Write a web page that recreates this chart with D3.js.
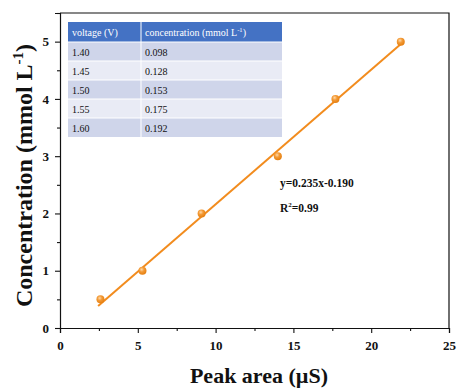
<!DOCTYPE html>
<html>
<head>
<meta charset="utf-8">
<script src="https://cdn.jsdelivr.net/npm/d3@7"></script>
<style>
  html, body { margin: 0; padding: 0; background: #fff; }
  svg { display: block; }
</style>
</head>
<body>
<svg id="chart" width="458" height="392"></svg>
<script>
// Calibration data: peak area (µS) vs concentration (mmol L-1)
const peakArea = [2.6, 5.3, 9.1, 14.0, 17.7, 21.9];
const concentration = [0.5, 1.0, 2.0, 3.0, 4.0, 5.0];
// Linear fit y = slope * x + intercept
const fitSlope = 0.235;
const fitIntercept = -0.190;
const rSquared = "0.99";
// Inset table
const tableVoltage = ["1.40", "1.45", "1.50", "1.55", "1.60"];
const tableConc = ["0.098", "0.128", "0.153", "0.175", "0.192"];
const xTicks = [0, 5, 10, 15, 20, 25];
const yTicks = [0, 1, 2, 3, 4, 5];

const svg = d3.select("#chart");
const margin = { left: 60, right: 9, top: 13, bottom: 64 };
const W = 458, H = 392;
const x = d3.scaleLinear().domain([0, 25]).range([margin.left, W - margin.right]);
const y = d3.scaleLinear().domain([0, 5.5]).range([H - margin.bottom, margin.top]);

const orange = "#f28c1e";
const serif = "'Liberation Serif', 'Times New Roman', serif";

// Marker gradient for a slightly glossy look
const defs = svg.append("defs");
const grad = defs.append("radialGradient").attr("id", "dotGrad")
  .attr("cx", "40%").attr("cy", "35%").attr("r", "65%");
grad.append("stop").attr("offset", "0%").attr("stop-color", "#ffd9a8");
grad.append("stop").attr("offset", "45%").attr("stop-color", "#f39a36");
grad.append("stop").attr("offset", "100%").attr("stop-color", "#e57f10");

// Frame (top and right)
svg.append("path")
  .attr("d", `M${x(0)},${y(5.5)}H${x(25)}V${y(0)}`)
  .attr("fill", "none").attr("stroke", "#111").attr("stroke-width", 1.2);

// Axes
const xAxis = svg.append("g").attr("transform", `translate(0,${y(0)})`)
  .call(d3.axisBottom(x).tickValues(xTicks).tickSize(5).tickPadding(8).tickFormat(d3.format("d")));
const xMinor = svg.append("g").attr("transform", `translate(0,${y(0)})`)
  .call(d3.axisBottom(x).tickValues(d3.range(2.5, 25, 5)).tickSize(3).tickFormat(""));
const yAxis = svg.append("g").attr("transform", `translate(${x(0)},0)`)
  .call(d3.axisLeft(y).tickValues(yTicks).tickSize(5).tickPadding(6).tickFormat(d3.format("d")));
const yMinor = svg.append("g").attr("transform", `translate(${x(0)},0)`)
  .call(d3.axisLeft(y).tickValues(d3.range(0.5, 5.6, 1)).tickSize(3).tickFormat(""));

[xAxis, xMinor, yAxis, yMinor].forEach(g => {
  g.select(".domain").attr("stroke", "#111").attr("stroke-width", 1.2);
  g.selectAll(".tick line").attr("stroke", "#111").attr("stroke-width", 1.1);
  g.selectAll("text").attr("font-family", serif).attr("font-weight", "bold")
    .attr("font-size", 13).attr("fill", "#111");
});
xMinor.select(".domain").remove();
yMinor.select(".domain").remove();

// Fit line over the data range
const x0 = 2.45, x1 = 22.0;
svg.append("line")
  .attr("x1", x(x0)).attr("y1", y(fitSlope * x0 + fitIntercept))
  .attr("x2", x(x1)).attr("y2", y(fitSlope * x1 + fitIntercept))
  .attr("stroke", orange).attr("stroke-width", 2);

// Points
svg.append("g").selectAll("circle")
  .data(peakArea.map((d, i) => [d, concentration[i]]))
  .join("circle")
  .attr("cx", d => x(d[0])).attr("cy", d => y(d[1]))
  .attr("r", 4).attr("fill", "url(#dotGrad)");

// Equation text
svg.append("text").attr("x", 280).attr("y", 187)
  .attr("font-family", serif).attr("font-weight", "bold").attr("font-size", 11.5).attr("fill", "#111")
  .text(`y=${fitSlope.toFixed(3)}x${fitIntercept < 0 ? "-" : "+"}${Math.abs(fitIntercept).toFixed(3)}`);
const r2 = svg.append("text").attr("x", 280).attr("y", 212)
  .attr("font-family", serif).attr("font-weight", "bold").attr("font-size", 11.5).attr("fill", "#111");
r2.append("tspan").text("R");
r2.append("tspan").attr("dy", -5).attr("font-size", 7).text("2");
r2.append("tspan").attr("dy", 5).text("=" + rSquared);

// Axis titles
svg.append("text")
  .attr("transform", `translate(32,${(y(0) + y(5.5)) / 2 + 5}) rotate(-90)`)
  .attr("text-anchor", "middle")
  .attr("font-family", serif).attr("font-weight", "bold").attr("font-size", 24).attr("fill", "#111")
  .call(t => {
    t.append("tspan").text("Concentration (mmol L");
    t.append("tspan").attr("dy", -9).attr("font-size", 15).text("-1");
    t.append("tspan").attr("dy", 9).text(")");
  });
svg.append("text").attr("x", 259).attr("y", 383).attr("text-anchor", "middle")
  .attr("font-family", serif).attr("font-weight", "bold").attr("font-size", 22).attr("fill", "#111")
  .text("Peak area (µS)");

// Inset table
const tX = 68, tY = 22, colW = [73, 141], headH = 20, rowH = 19;
const table = svg.append("g");
table.append("rect").attr("x", tX).attr("y", tY).attr("width", colW[0] + colW[1]).attr("height", headH)
  .attr("fill", "#4472c4");
const headers = ["voltage (V)", "concentration (mmol L"];
[0, 1].forEach(c => {
  const tx = table.append("text").attr("x", tX + (c ? colW[0] : 0) + 4).attr("y", tY + 14)
    .attr("font-family", serif).attr("font-size", 10).attr("fill", "#fff").text(headers[c]);
  if (c === 1) {
    tx.append("tspan").attr("dy", -4).attr("font-size", 6.5).text("-1");
    tx.append("tspan").attr("dy", 4).text(")");
  }
});
tableVoltage.forEach((v, i) => {
  const ry = tY + headH + i * rowH;
  table.append("rect").attr("x", tX).attr("y", ry).attr("width", colW[0] + colW[1]).attr("height", rowH)
    .attr("fill", i % 2 === 0 ? "#cfd5ea" : "#e9ebf5");
  table.append("text").attr("x", tX + 4).attr("y", ry + 13.5)
    .attr("font-family", serif).attr("font-size", 10).attr("fill", "#111").text(v);
  table.append("text").attr("x", tX + colW[0] + 4).attr("y", ry + 13.5)
    .attr("font-family", serif).attr("font-size", 10).attr("fill", "#111").text(tableConc[i]);
});
// White grid lines of the table
d3.range(1, tableVoltage.length + 1).forEach(i => {
  const ly = tY + headH + (i - 1) * rowH;
  table.append("line").attr("x1", tX).attr("x2", tX + colW[0] + colW[1]).attr("y1", ly).attr("y2", ly)
    .attr("stroke", "#fff").attr("stroke-width", 1);
});
table.append("line").attr("x1", tX + colW[0]).attr("x2", tX + colW[0])
  .attr("y1", tY).attr("y2", tY + headH + tableVoltage.length * rowH)
  .attr("stroke", "#fff").attr("stroke-width", 1);
</script>
</body>
</html>
